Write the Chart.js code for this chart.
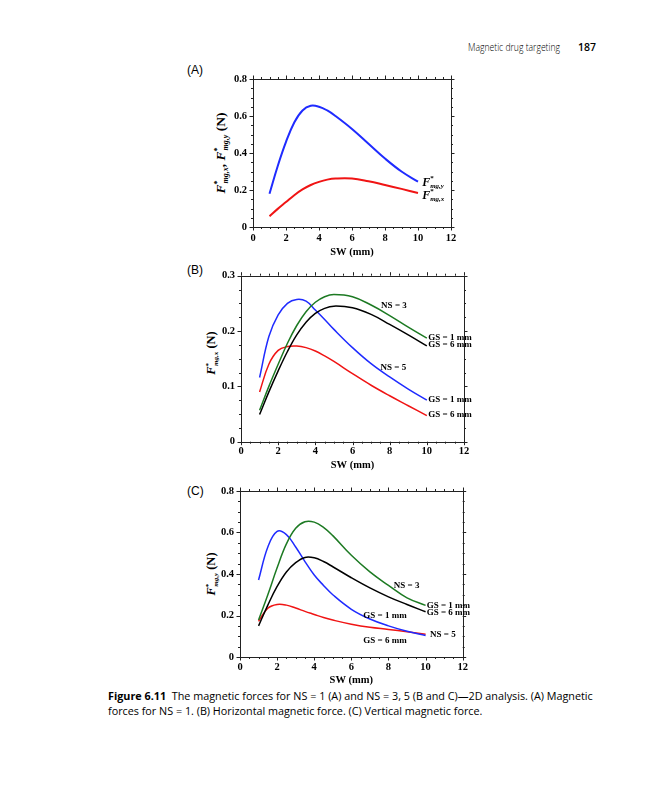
<!DOCTYPE html>
<html><head><meta charset="utf-8">
<script src="https://cdn.jsdelivr.net/npm/chart.js@4/dist/chart.umd.min.js"></script>
<style>
body{margin:0;background:#fff;width:648px;height:800px;position:relative;overflow:hidden;font-family:'Open Sans','Noto Sans',sans-serif;color:#000}
canvas{position:absolute}
.t{position:absolute;white-space:nowrap}
.yt{position:absolute;font:bold 12.5px 'Liberation Serif','Times New Roman',serif;white-space:nowrap;transform:translate(-50%,-50%) rotate(-90deg)}
.yt i{font-style:italic}
.yt sup{font-size:7px;vertical-align:5px;margin-right:-3px}
.yt sub{font-size:7px;font-style:italic;vertical-align:-3px}
.yt.big{font-size:13.5px}
.yt.big sup,.yt.big sub{font-size:8px}
</style></head>
<body>
<div class="t" style="left:468px;top:40px;font-size:10px;font-weight:300;transform:scaleX(0.86);transform-origin:0 0">Magnetic drug targeting</div>
<div class="t" style="left:578px;top:40px;font-size:10.5px;font-weight:600">187</div>
<div class="t" style="left:187px;top:63px;font-size:12px;font-family:'Liberation Sans',Arial,sans-serif">(A)</div>
<div class="t" style="left:187px;top:263px;font-size:12px;font-family:'Liberation Sans',Arial,sans-serif">(B)</div>
<div class="t" style="left:187px;top:484px;font-size:12px;font-family:'Liberation Sans',Arial,sans-serif">(C)</div>
<div class="yt big" style="left:221px;top:153px"><i>F</i><sup>*</sup><sub>mg,x</sub>, <i>F</i><sup>*</sup><sub>mg,y</sub> (N)</div>
<div class="yt" style="left:212px;top:353px"><i>F</i><sup>*</sup><sub>mg,x</sub> (N)</div>
<div class="yt" style="left:212px;top:574px"><i>F</i><sup>*</sup><sub>mg,y</sub> (N)</div>
<canvas id="cA" width="270" height="205" style="left:200px;top:60px;width:270px;height:205px"></canvas>
<canvas id="cB" width="290" height="210" style="left:190px;top:262px;width:290px;height:210px"></canvas>
<canvas id="cC" width="290" height="210" style="left:190px;top:478px;width:290px;height:210px"></canvas>
<div class="t" style="left:108px;top:689px;font-size:10.8px;line-height:14.5px"><b>Figure 6.11</b>&nbsp; The magnetic forces for NS = 1 (A) and NS = 3, 5 (B and C)—2D analysis. (A) Magnetic<br>forces for NS = 1. (B) Horizontal magnetic force. (C) Vertical magnetic force.</div>
<script>
// ---- data ----
const SW = [1, 1.5, 2, 2.5, 3, 3.5, 4, 4.5, 5, 6, 7, 8, 9, 10];
// Panel A (NS = 1)
const A_Fy = [0.18, 0.33, 0.46, 0.565, 0.63, 0.655, 0.65, 0.63, 0.60, 0.53, 0.45, 0.37, 0.30, 0.245];
const A_Fx = [0.058, 0.098, 0.135, 0.172, 0.203, 0.227, 0.244, 0.256, 0.262, 0.262, 0.247, 0.227, 0.206, 0.184];
// Panel B: horizontal force
const B_NS5_GS1 = [0.116, 0.19, 0.229, 0.25, 0.257, 0.254, 0.238, 0.221, 0.203, 0.17, 0.141, 0.117, 0.095, 0.075];
const B_NS5_GS6 = [0.09, 0.14, 0.165, 0.172, 0.173, 0.17, 0.164, 0.155, 0.145, 0.123, 0.102, 0.083, 0.065, 0.047];
const B_NS3_GS1 = [0.057, 0.10, 0.14, 0.178, 0.21, 0.235, 0.252, 0.262, 0.266, 0.262, 0.247, 0.228, 0.207, 0.187];
const B_NS3_GS6 = [0.049, 0.09, 0.128, 0.163, 0.193, 0.216, 0.232, 0.241, 0.245, 0.242, 0.23, 0.212, 0.193, 0.173];
// Panel C: vertical force
const C_NS5_GS1 = [0.371, 0.53, 0.605, 0.59, 0.53, 0.46, 0.395, 0.345, 0.30, 0.23, 0.183, 0.15, 0.124, 0.104];
const C_NS5_GS6 = [0.172, 0.235, 0.253, 0.25, 0.236, 0.22, 0.205, 0.19, 0.178, 0.158, 0.143, 0.133, 0.122, 0.11];
const C_NS3_GS1 = [0.178, 0.30, 0.43, 0.545, 0.62, 0.652, 0.65, 0.625, 0.585, 0.49, 0.41, 0.345, 0.285, 0.249];
const C_NS3_GS6 = [0.15, 0.25, 0.34, 0.41, 0.455, 0.48, 0.478, 0.46, 0.435, 0.382, 0.333, 0.29, 0.253, 0.218];
// axis ranges / ticks
const X_RANGE = [0, 12], X_STEP = 2, X_MINOR = 0.5;
const A_YRANGE = [0, 0.8], A_YSTEP = 0.2, A_YMINOR = 0.05;
const B_YRANGE = [0, 0.3], B_YSTEP = 0.1, B_YMINOR = 0.025;
const C_YRANGE = [0, 0.8], C_YSTEP = 0.2, C_YMINOR = 0.05;

const BLUE = '#1f2bff', RED = '#f01414', GREEN = '#1d7a23', BLACK = '#000';
const SERIF = "'Liberation Serif','Times New Roman',serif";

function pts(ys){ return SW.map((x,i)=>({x, y: ys[i]})); }
function ds(ys, color, w){ return {data: pts(ys), borderColor: color, borderWidth: w, pointRadius: 0, tension: 0.4, fill: false}; }

function drawRich(ctx, x, y, parts){
  let cx = x;
  for (const p of parts){
    ctx.font = p.font;
    ctx.fillText(p.t, cx, y + (p.dy||0));
    cx += (p.adv !== undefined) ? p.adv : ctx.measureText(p.t).width;
  }
}

const framePlugin = {
  id: 'frameTicks',
  afterDraw(chart, args, o){
    const {ctx, chartArea: a, scales: {x, y}} = chart;
    ctx.save();
    ctx.strokeStyle = '#222'; ctx.lineWidth = 1;
    ctx.strokeRect(Math.round(a.left)+0.5, Math.round(a.top)+0.5, Math.round(a.right-a.left), Math.round(a.bottom-a.top));
    ctx.beginPath();
    const isMaj = (v, s) => Math.abs(v/s - Math.round(v/s)) < 1e-6;
    for (let k = 0; ; k++){
      const v = x.min + k*o.xMinor; if (v > x.max + 1e-9) break;
      const L = isMaj(v, o.xMajor) ? 3.5 : 2; const px = Math.round(x.getPixelForValue(v)) + 0.5;
      ctx.moveTo(px, a.bottom); ctx.lineTo(px, a.bottom + L);
      ctx.moveTo(px, a.top); ctx.lineTo(px, a.top - L);
    }
    for (let k = 0; ; k++){
      const v = y.min + k*o.yMinor; if (v > y.max + 1e-9) break;
      const L = isMaj(v, o.yMajor) ? 3.5 : 2; const py = Math.round(y.getPixelForValue(v)) + 0.5;
      ctx.moveTo(a.left, py); ctx.lineTo(a.left - L, py);
      ctx.moveTo(a.right, py); ctx.lineTo(a.right + L, py);
    }
    ctx.stroke();
    // x axis title
    ctx.fillStyle = '#000'; ctx.font = 'bold 10.5px ' + SERIF; ctx.textAlign = 'center'; ctx.textBaseline = 'middle';
    ctx.fillText('SW (mm)', (a.left + a.right)/2, a.bottom + o.titleOff);
    // notes
    ctx.textBaseline = 'middle';
    for (const n of (o.notes || [])){
      const px = x.getPixelForValue(n.x), py = y.getPixelForValue(n.y);
      if (n.rich){
        ctx.textAlign = 'left';
        drawRich(ctx, px, py, n.rich);
      } else {
        ctx.textAlign = n.align || 'left';
        ctx.font = 'bold 9px ' + SERIF;
        ctx.fillText(n.text, px, py);
      }
    }
    ctx.restore();
  }
};

function makeChart(id, datasets, yr, ystep, yminor, yW, xH, pad, xPad, titleOff, notes){
  return new Chart(document.getElementById(id), {
    type: 'line',
    data: {datasets},
    options: {
      responsive: false, animation: false, devicePixelRatio: 1,
      layout: {padding: pad},
      plugins: {legend: {display: false}, tooltip: {enabled: false},
        frameTicks: {xMinor: X_MINOR, xMajor: X_STEP, yMinor: yminor, yMajor: ystep, titleOff, notes}},
      scales: {
        x: {type: 'linear', min: X_RANGE[0], max: X_RANGE[1],
            grid: {display: false, drawTicks: false}, border: {display: false},
            ticks: {stepSize: X_STEP, padding: xPad, color: '#000', font: {family: SERIF, weight: 'bold', size: 10.5}, maxRotation: 0},
            afterFit: s => { s.height = xH; }},
        y: {type: 'linear', min: yr[0], max: yr[1],
            grid: {display: false, drawTicks: false}, border: {display: false},
            ticks: {stepSize: ystep, padding: 6, color: '#000', font: {family: SERIF, weight: 'bold', size: 10.5},
                    callback: v => Math.abs(v) < 1e-9 ? '0' : v.toFixed(1)},
            afterFit: s => { s.width = yW; }}
      }
    },
    plugins: [framePlugin]
  });
}

const FI = 'italic bold 12px ' + SERIF, FS = 'bold 7px ' + SERIF, FSI = 'italic bold 7px ' + SERIF;
makeChart('cA', [ds(A_Fy, BLUE, 2), ds(A_Fx, RED, 2)], A_YRANGE, A_YSTEP, A_YMINOR, 53, 38,
  {left: 0, top: 19, right: 19, bottom: 0}, 4.5, 25.5,
  [{x: 10.25, y: 0.238, rich: [{t:'F', font: FI}, {t:'*', font: FS, dy: -5, adv: 0}, {t:'mg,y', font: FSI, dy: 3}]},
   {x: 10.25, y: 0.166, rich: [{t:'F', font: FI}, {t:'*', font: FS, dy: -5, adv: 0}, {t:'mg,x', font: FSI, dy: 3}]}]);

makeChart('cB', [ds(B_NS3_GS1, GREEN, 1.5), ds(B_NS3_GS6, BLACK, 1.5), ds(B_NS5_GS1, BLUE, 1.5), ds(B_NS5_GS6, RED, 1.5)],
  B_YRANGE, B_YSTEP, B_YMINOR, 51, 30.3, {left: 0, top: 13.7, right: 16, bottom: 0}, 3, 23.5,
  [{x: 8.23, y: 0.246, text: 'NS = 3', align: 'center'},
   {x: 10.08, y: 0.188, text: 'GS = 1 mm'}, {x: 10.08, y: 0.175, text: 'GS = 6 mm'},
   {x: 8.2, y: 0.133, text: 'NS = 5', align: 'center'},
   {x: 10.08, y: 0.0753, text: 'GS = 1 mm'}, {x: 10.08, y: 0.048, text: 'GS = 6 mm'}]);

makeChart('cC', [ds(C_NS3_GS1, GREEN, 1.5), ds(C_NS3_GS6, BLACK, 1.5), ds(C_NS5_GS1, BLUE, 1.5), ds(C_NS5_GS6, RED, 1.5)],
  C_YRANGE, C_YSTEP, C_YMINOR, 50, 31, {left: 0, top: 13, right: 17.3, bottom: 0}, 3.5, 23,
  [{x: 8.98, y: 0.342, text: 'NS = 3', align: 'center'},
   {x: 10.06, y: 0.249, text: 'GS = 1 mm'}, {x: 10.06, y: 0.215, text: 'GS = 6 mm'},
   {x: 7.81, y: 0.198, text: 'GS = 1 mm', align: 'center'},
   {x: 10.24, y: 0.106, text: 'NS = 5'},
   {x: 7.81, y: 0.079, text: 'GS = 6 mm', align: 'center'}]);
</script>
</body></html>
